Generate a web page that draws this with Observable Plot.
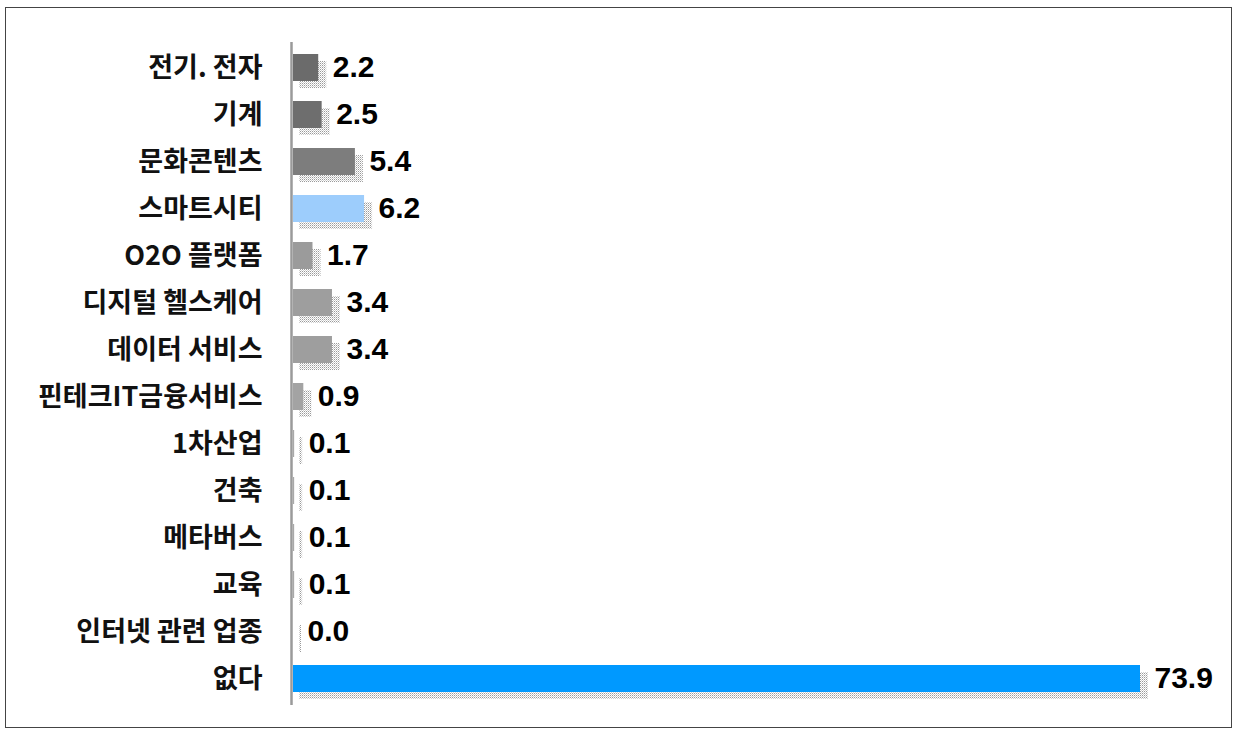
<!DOCTYPE html>
<html>
<head>
<meta charset="utf-8">
<script src="https://cdn.jsdelivr.net/npm/d3@7"></script>
<script src="https://cdn.jsdelivr.net/npm/@observablehq/plot@0.6"></script>
<style>
  html, body { margin: 0; padding: 0; background: #fff; }
  #wrap { position: relative; width: 1239px; height: 734px; }
  #frame { position: absolute; left: 5px; top: 7px; width: 1225px; height: 719px; border: 1.5px solid #444; pointer-events: none; }
  #chart { position: absolute; left: 0; top: 0; }
</style>
</head>
<body>
<div id="wrap"><div id="chart"></div><div id="frame"></div></div>
<script>
const categories = ["전기. 전자", "기계", "문화콘텐츠", "스마트시티", "O2O 플랫폼", "디지털 헬스케어", "데이터 서비스", "핀테크IT금융서비스", "1차산업", "건축", "메타버스", "교육", "인터넷 관련 업종", "없다"];
const values = [2.2, 2.5, 5.4, 6.2, 1.7, 3.4, 3.4, 0.9, 0.1, 0.1, 0.1, 0.1, 0.0, 73.9];
const colors = ["#6b6b6b", "#6e6e6e", "#7d7d7d", "#9dcdfc", "#9b9b9b", "#9e9e9e", "#9e9e9e", "#a3a3a3", "#a8a8a8", "#a8a8a8", "#a8a8a8", "#a8a8a8", "#a8a8a8", "#0099ff"];

const data = categories.map((c, i) => ({cat: c, value: values[i], color: colors[i]}));

const plot = Plot.plot({
  width: 1239,
  height: 734,
  marginLeft: 293,
  marginRight: 99,
  marginTop: 42,
  marginBottom: 29,
  style: {background: "transparent", fontFamily: "'Noto Sans CJK KR', sans-serif"},
  x: {domain: [0, 73.9], axis: null},
  y: {domain: categories, paddingInner: 0.42, paddingOuter: 0.21, label: null},
  marks: [
    Plot.barX(data, {y: "cat", x: "value", fill: "url(#shadowPat)", dx: 6, dy: 7, insetRight: -2}),
    Plot.barX(data, {y: "cat", x: "value", fill: "color"}),
    Plot.ruleX([0], {stroke: "#9a9a9a", strokeWidth: 2.5, dx: -2}),
    Plot.axisY({tickSize: 0, tickPadding: 31, fontSize: 27, fontWeight: "bold", fill: "#111", label: null}),
    Plot.text(data, {y: "cat", x: "value", text: d => d.value.toFixed(1), textAnchor: "start", dx: 14, dy: -1, fontSize: 30, fontWeight: "bold", fill: "#000", fontFamily: "'Liberation Sans', Arial, sans-serif"})
  ]
});

// dotted shadow pattern
const ns = "http://www.w3.org/2000/svg";
const defs = document.createElementNS(ns, "defs");
const pat = document.createElementNS(ns, "pattern");
pat.setAttribute("id", "shadowPat");
pat.setAttribute("width", "2");
pat.setAttribute("height", "2");
pat.setAttribute("patternUnits", "userSpaceOnUse");
const r1 = document.createElementNS(ns, "rect");
r1.setAttribute("x", "0"); r1.setAttribute("y", "0"); r1.setAttribute("width", "1"); r1.setAttribute("height", "1"); r1.setAttribute("fill", "#9a9a9a");
const r2 = document.createElementNS(ns, "rect");
r2.setAttribute("x", "1"); r2.setAttribute("y", "1"); r2.setAttribute("width", "1"); r2.setAttribute("height", "1"); r2.setAttribute("fill", "#d0d0d0");
pat.appendChild(r1); pat.appendChild(r2);
defs.appendChild(pat);
plot.insertBefore(defs, plot.firstChild);

document.getElementById("chart").appendChild(plot);
</script>
</body>
</html>
